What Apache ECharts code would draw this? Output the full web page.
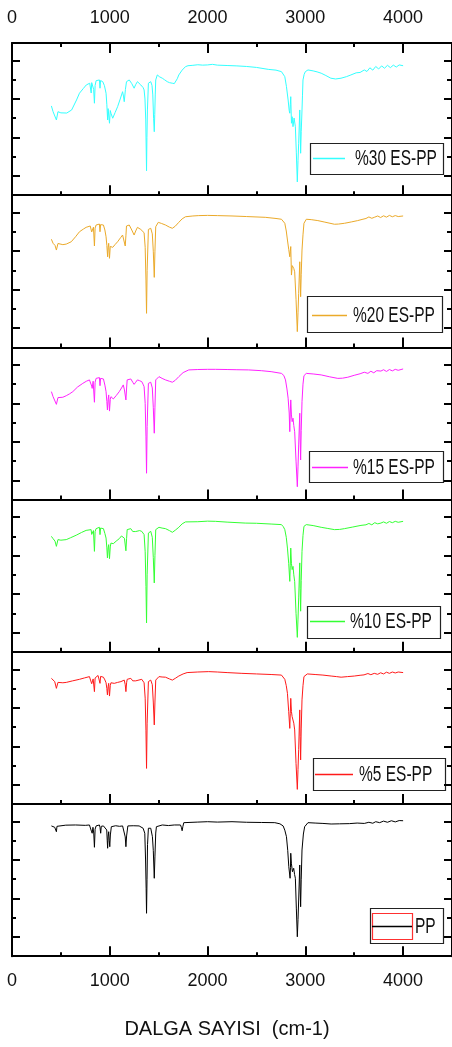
<!DOCTYPE html>
<html>
<head>
<meta charset="utf-8">
<script src="https://cdn.jsdelivr.net/npm/echarts@6/dist/echarts.min.js"></script>
<style>
html,body{margin:0;padding:0;background:#fff;}
#chart{width:452px;height:1047px;}
</style>
</head>
<body>
<div id="chart"></div>
<script>
// ---------------- DATA (wavenumber cm-1, transmittance in panel units) ----------------
const seriesNames = ['%30 ES-PP', '%20 ES-PP', '%15 ES-PP', '%10 ES-PP', '%5 ES-PP', 'PP'];
const seriesColors = ['#33FFFF', '#EBAA2A', '#FF22FF', '#33FF33', '#FF1A1A', '#000000'];
const xTickValues = [0, 1000, 2000, 3000, 4000];
const xAxisTitle = 'DALGA SAYISI  (cm-1)';

const es30 = [[403,46.4],[420,43.4],[440,44.0],[454,39.1],[470,43.4],[500,42.8],[520,43.6],[560,42.7],[610,44.3],[625,45.2],[660,49.5],[690,53.0],[730,55.5],[760,57.3],[795,58.2],[805,57.5],[810,53.1],[815,58.5],[825,58.8],[835,55.0],[843,47.8],[850,57.0],[860,59.5],[880,60.0],[894,59.9],[900,55.6],[906,59.6],[928,59.0],[945,57.0],[962,53.0],[970,47.0],[978,39.1],[983,45.0],[989,46.0],[997,37.4],[1005,44.0],[1012,42.6],[1030,40.0],[1055,43.0],[1080,46.0],[1110,50.5],[1131,53.8],[1140,51.5],[1148,48.6],[1160,55.0],[1171,59.0],[1199,59.9],[1225,58.0],[1249,55.6],[1265,57.5],[1283,59.0],[1300,58.5],[1317,57.3],[1340,56.0],[1351,54.7],[1360,50.0],[1368,39.1],[1376,12.7],[1380,30.0],[1385,44.3],[1395,58.2],[1419,59.0],[1432,57.0],[1440,52.1],[1448,40.0],[1455,33.0],[1460,42.0],[1465,52.1],[1470,59.9],[1486,62.5],[1510,61.5],[1537,60.8],[1560,60.0],[1588,59.0],[1610,58.5],[1639,58.2],[1660,58.0],[1673,59.0],[1690,60.5],[1706,62.5],[1740,65.0],[1774,66.8],[1800,67.3],[1850,67.5],[1900,67.8],[1950,67.6],[2000,67.7],[2050,68.0],[2100,67.6],[2200,67.4],[2300,67.2],[2400,66.9],[2500,66.4],[2621,65.4],[2700,65.0],[2756,64.2],[2775,63.2],[2790,61.6],[2807,56.4],[2824,49.5],[2835,44.0],[2841,42.6],[2846,47.0],[2851,51.2],[2858,37.4],[2865,40.8],[2874,35.6],[2885,40.1],[2898,35.6],[2908,22.0],[2918,6.9],[2925,18.0],[2932,27.0],[2943,44.3],[2947,35.0],[2952,21.8],[2958,33.0],[2966,44.3],[2971,52.0],[2976,59.9],[2988,62.8],[3000,64.2],[3027,65.1],[3080,64.6],[3120,64.1],[3162,63.4],[3210,62.2],[3261,60.8],[3310,60.4],[3365,60.8],[3420,61.6],[3466,62.5],[3520,63.6],[3560,63.8],[3603,65.1],[3630,64.3],[3660,66.2],[3690,65.0],[3720,66.9],[3750,65.6],[3780,67.2],[3810,66.0],[3840,67.5],[3870,66.3],[3900,67.6],[3930,66.6],[3960,67.7],[4000,67.3]];

const es20 = [[403,56.2],[420,54.1],[440,53.0],[454,50.6],[470,54.0],[487,54.1],[520,53.4],[555,53.7],[606,54.9],[650,57.5],[690,60.1],[730,61.5],[758,62.4],[800,63.1],[809,62.8],[815,60.0],[826,59.3],[833,62.5],[843,52.7],[850,62.0],[860,63.6],[880,64.0],[894,64.1],[900,60.1],[906,63.8],[935,63.6],[950,61.0],[962,57.5],[970,53.0],[978,47.1],[983,52.0],[989,54.1],[997,46.3],[1005,52.5],[1012,53.2],[1030,52.0],[1055,53.5],[1080,54.9],[1110,57.0],[1131,58.4],[1145,57.5],[1158,52.7],[1165,58.0],[1171,63.1],[1199,63.6],[1225,61.0],[1249,58.4],[1265,60.5],[1283,62.4],[1300,61.8],[1317,61.3],[1335,60.5],[1351,59.6],[1362,52.0],[1370,35.0],[1376,17.7],[1382,40.0],[1395,61.3],[1419,61.9],[1435,59.0],[1445,50.0],[1455,36.4],[1462,50.0],[1470,62.7],[1496,65.0],[1530,64.4],[1570,63.6],[1610,62.5],[1640,61.9],[1670,63.0],[1706,65.0],[1740,66.8],[1774,67.9],[1850,68.3],[1910,68.5],[2000,68.6],[2100,68.5],[2250,68.3],[2400,68.0],[2590,67.6],[2700,67.0],[2756,66.6],[2775,65.7],[2790,64.5],[2805,60.5],[2817,55.8],[2830,51.0],[2841,47.1],[2846,50.0],[2851,52.4],[2858,37.6],[2866,42.5],[2874,41.9],[2882,41.0],[2891,39.3],[2905,25.0],[2918,8.2],[2925,18.0],[2932,28.1],[2943,44.5],[2947,36.0],[2952,26.3],[2958,38.0],[2966,50.6],[2976,58.5],[2986,64.5],[3010,66.6],[3060,66.4],[3128,65.9],[3200,65.1],[3298,64.0],[3340,64.1],[3400,64.5],[3470,65.2],[3535,65.9],[3580,66.5],[3620,67.0],[3650,67.8],[3680,67.1],[3705,67.6],[3740,68.3],[3770,67.5],[3800,68.4],[3830,67.7],[3860,68.6],[3890,67.9],[3920,68.5],[3950,68.0],[4000,68.3]];

const es15 = [[403,56.1],[420,53.5],[440,52.5],[454,49.5],[470,53.0],[487,53.5],[520,53.2],[555,54.0],[590,55.0],[622,56.1],[670,58.5],[724,60.4],[760,61.5],[792,62.2],[810,62.0],[815,59.0],[820,57.8],[830,61.5],[843,50.6],[850,61.0],[860,63.0],[880,63.3],[894,63.4],[900,59.2],[906,63.0],[935,62.7],[950,59.5],[962,56.1],[970,51.0],[976,46.6],[983,52.0],[989,54.4],[997,46.0],[1005,52.0],[1012,53.5],[1036,52.3],[1065,54.0],[1097,56.1],[1120,58.0],[1138,59.6],[1150,57.0],[1165,51.8],[1172,58.0],[1178,62.2],[1215,62.7],[1235,61.0],[1249,59.9],[1265,61.0],[1283,62.2],[1305,61.8],[1327,61.3],[1340,60.0],[1351,58.7],[1362,50.0],[1370,33.0],[1376,13.7],[1382,38.0],[1395,60.4],[1419,61.0],[1435,58.0],[1445,48.0],[1455,34.5],[1462,48.0],[1470,62.2],[1503,63.9],[1535,63.0],[1570,62.2],[1610,61.5],[1640,61.0],[1670,62.0],[1706,63.9],[1750,66.0],[1808,67.4],[1900,67.6],[2000,67.7],[2080,67.7],[2200,67.6],[2300,67.5],[2420,67.4],[2550,67.0],[2650,66.5],[2756,65.6],[2780,64.5],[2797,62.2],[2812,57.5],[2824,52.7],[2835,45.0],[2841,35.3],[2846,45.0],[2851,51.8],[2858,44.0],[2865,40.5],[2874,42.3],[2882,38.5],[2891,35.3],[2905,20.0],[2918,6.7],[2925,17.0],[2932,28.4],[2943,44.9],[2947,32.0],[2952,20.6],[2958,36.0],[2966,50.9],[2976,60.0],[2986,64.4],[3010,65.6],[3080,65.3],[3162,64.8],[3250,63.8],[3332,63.0],[3380,63.1],[3434,63.6],[3500,64.6],[3560,65.4],[3603,66.2],[3640,65.6],[3670,66.7],[3700,65.9],[3730,67.0],[3773,66.8],[3800,67.5],[3830,66.6],[3860,67.6],[3890,66.9],[3920,67.7],[3950,67.2],[4000,67.9]];

const es10 = [[403,60.0],[420,58.8],[440,57.5],[454,54.8],[470,58.3],[500,58.0],[555,58.3],[600,59.3],[657,60.6],[710,62.0],[758,63.1],[809,63.5],[815,61.0],[826,60.0],[833,63.0],[843,52.2],[850,62.5],[860,64.0],[880,64.5],[894,64.7],[900,60.9],[906,64.3],[935,64.0],[950,61.5],[962,59.1],[970,54.0],[976,48.8],[983,54.0],[989,55.7],[997,48.4],[1005,54.5],[1012,56.5],[1036,56.2],[1065,57.5],[1097,58.8],[1120,60.2],[1138,61.2],[1150,59.0],[1165,52.5],[1172,59.0],[1178,63.5],[1215,64.0],[1235,62.5],[1249,61.7],[1265,62.5],[1283,63.5],[1305,63.0],[1327,62.6],[1340,61.8],[1351,60.9],[1362,52.0],[1370,34.0],[1376,15.0],[1382,40.0],[1395,61.7],[1419,62.6],[1435,59.5],[1445,49.0],[1455,35.8],[1462,50.0],[1470,63.5],[1503,64.7],[1535,64.3],[1570,64.0],[1610,63.0],[1640,62.1],[1670,63.2],[1706,64.7],[1740,66.5],[1774,67.5],[1900,67.6],[2000,67.9],[2080,67.8],[2200,67.4],[2385,66.9],[2500,66.8],[2650,66.4],[2756,66.1],[2775,65.0],[2790,63.5],[2805,59.5],[2817,53.9],[2830,46.0],[2841,36.6],[2846,45.0],[2851,53.9],[2858,46.0],[2865,42.7],[2874,44.4],[2882,40.0],[2891,36.6],[2905,20.0],[2918,7.5],[2925,17.0],[2932,28.0],[2943,46.2],[2947,33.0],[2952,21.1],[2958,37.0],[2966,52.2],[2976,60.5],[2986,65.2],[3010,66.1],[3080,65.6],[3162,64.7],[3230,64.1],[3298,63.5],[3350,63.6],[3400,64.0],[3480,64.8],[3569,65.7],[3620,66.0],[3650,66.7],[3680,66.0],[3710,67.1],[3740,66.5],[3773,66.9],[3800,67.5],[3830,66.8],[3860,67.7],[3890,67.1],[3920,67.8],[3950,67.3],[4000,67.8]];

const es5 = [[403,65.3],[420,64.5],[437,63.6],[454,60.1],[470,63.2],[520,63.0],[555,63.2],[620,64.0],[690,64.8],[740,65.5],[792,66.2],[810,65.8],[815,62.5],[820,61.9],[830,65.0],[843,58.4],[850,65.5],[860,66.5],[880,66.8],[894,66.9],[900,62.7],[906,66.3],[935,65.9],[950,64.5],[962,63.0],[970,60.0],[976,56.7],[983,61.0],[989,62.7],[997,56.1],[1005,61.5],[1012,63.0],[1046,62.7],[1080,63.2],[1114,63.6],[1148,64.4],[1158,62.0],[1165,58.4],[1172,63.0],[1178,64.8],[1215,65.3],[1235,64.0],[1249,63.0],[1265,64.0],[1283,64.8],[1327,64.8],[1340,64.0],[1351,63.0],[1362,55.0],[1370,38.0],[1376,18.5],[1382,42.0],[1395,63.6],[1419,64.4],[1435,62.0],[1445,53.0],[1455,41.1],[1462,53.0],[1470,64.4],[1503,66.2],[1535,66.0],[1570,65.9],[1610,65.0],[1640,64.4],[1670,65.3],[1706,66.5],[1750,67.6],[1791,68.3],[1900,68.6],[2012,68.8],[2100,68.6],[2200,68.3],[2351,67.9],[2500,67.6],[2650,67.3],[2756,67.0],[2775,66.2],[2790,64.8],[2805,61.5],[2817,57.5],[2830,48.0],[2841,39.3],[2846,47.0],[2851,54.9],[2858,48.0],[2865,45.4],[2874,46.3],[2882,42.0],[2891,38.5],[2905,21.0],[2918,7.6],[2925,18.0],[2932,28.4],[2943,48.9],[2947,35.0],[2952,22.9],[2958,39.0],[2966,54.1],[2976,61.5],[2986,66.2],[3020,67.6],[3100,67.3],[3180,67.0],[3264,66.5],[3320,66.2],[3366,65.9],[3430,66.2],[3501,66.5],[3560,66.9],[3600,67.1],[3640,67.8],[3670,67.2],[3705,67.9],[3740,67.4],[3770,68.2],[3800,67.6],[3830,68.5],[3860,67.9],[3890,68.6],[3920,68.1],[3950,68.6],[4000,68.3]];

const pp = [[403,67.7],[420,67.2],[437,67.0],[447,67.8],[454,64.7],[460,67.5],[470,68.2],[550,68.1],[650,68.2],[750,68.0],[792,68.2],[805,67.5],[812,65.0],[820,63.9],[828,67.0],[836,64.0],[843,56.6],[850,66.0],[860,67.7],[894,68.2],[900,67.0],[907,63.9],[913,67.5],[935,67.7],[955,67.0],[969,65.6],[974,60.0],[978,56.1],[983,62.0],[989,64.7],[995,60.0],[1000,56.9],[1006,63.0],[1016,67.3],[1060,67.8],[1100,67.5],[1131,67.7],[1150,66.8],[1158,62.0],[1165,56.9],[1172,62.5],[1185,67.7],[1240,67.8],[1300,67.7],[1320,67.2],[1341,66.5],[1358,63.9],[1366,50.0],[1372,35.0],[1376,22.3],[1381,40.0],[1386,58.0],[1395,66.5],[1419,66.5],[1436,62.1],[1445,55.0],[1455,40.5],[1462,52.0],[1470,64.0],[1477,67.3],[1537,68.2],[1600,67.9],[1660,68.2],[1723,68.2],[1732,67.0],[1740,65.2],[1748,67.5],[1757,69.4],[1900,69.7],[2000,69.9],[2100,69.7],[2250,69.9],[2400,69.6],[2550,69.5],[2688,69.4],[2740,68.8],[2773,67.7],[2790,65.5],[2807,62.1],[2820,55.0],[2831,46.5],[2844,40.5],[2848,46.0],[2851,53.5],[2858,48.0],[2868,43.9],[2881,45.7],[2890,42.5],[2898,40.5],[2908,25.0],[2918,10.1],[2925,19.0],[2932,29.2],[2943,47.4],[2947,36.0],[2952,25.7],[2958,40.0],[2966,55.2],[2980,63.5],[2993,67.3],[3027,69.4],[3100,69.2],[3180,69.0],[3264,68.7],[3350,68.8],[3450,68.9],[3530,69.2],[3603,69.0],[3650,69.6],[3690,69.1],[3720,69.9],[3760,69.4],[3800,70.2],[3840,69.6],[3880,70.4],[3920,69.8],[3960,70.5],[4000,70.4]];

const panelData = [es30, es20, es15, es10, es5, pp];

// ---------------- LAYOUT ----------------
const GRID_TOP = 43, GRID_H = 152.2, GRID_LEFT = 12, GRID_W = 443;
const X_MIN = 0, X_MAX = 4500, Y_MIN = 0, Y_MAX = 79.1;
const FONT = "'Liberation Sans', Arial, sans-serif";
const axisLineStyle = { color: '#000', width: 2 };
const tickLineStyle = { color: '#000', width: 2 };
const labelFmt = v => String(v);

const grids = [], xAxes = [], yAxes = [], series = [];

for (let i = 0; i < 6; i++) {
  grids.push({ left: GRID_LEFT, top: GRID_TOP + GRID_H * i, width: GRID_W, height: GRID_H, containLabel: false });
  const isLast = i === 5;
  // bottom x axis of this panel
  xAxes.push({
    gridIndex: i, type: 'value', position: 'bottom', min: X_MIN, max: X_MAX, interval: 1000,
    axisLine: { show: true, onZero: false, lineStyle: axisLineStyle },
    axisTick: { show: true, inside: true, length: 10, lineStyle: tickLineStyle },
    minorTick: { show: true, splitNumber: 2, length: 4, lineStyle: tickLineStyle },
    splitLine: { show: false },
    axisLabel: isLast ? { show: true, margin: 16, fontSize: 18, color: '#111', fontFamily: FONT,
      customValues: xTickValues, formatter: labelFmt } : { show: false },
    name: isLast ? xAxisTitle : '',
    nameLocation: 'middle', nameGap: 63,
    nameTextStyle: { fontSize: 20, color: '#111', fontFamily: FONT, padding: [0, 10, 0, 0] }
  });
  // top axis (only first panel carries ticks and labels on top)
  if (i === 0) {
    xAxes.push({
      gridIndex: i, type: 'value', position: 'top', min: X_MIN, max: X_MAX, interval: 1000,
      axisLine: { show: true, onZero: false, lineStyle: axisLineStyle },
      axisTick: { show: true, inside: true, length: 10, lineStyle: tickLineStyle },
      minorTick: { show: true, splitNumber: 2, length: 4, lineStyle: tickLineStyle },
      splitLine: { show: false },
      axisLabel: { show: true, margin: 16, fontSize: 18, color: '#111', fontFamily: FONT,
        customValues: xTickValues, formatter: labelFmt }
    });
  }
  const xIdx = xAxes.length - (i === 0 ? 2 : 1);
  // left y axis
  yAxes.push({
    gridIndex: i, type: 'value', position: 'left', min: Y_MIN, max: Y_MAX, interval: 20,
    axisLine: { show: true, onZero: false, lineStyle: axisLineStyle },
    axisTick: { show: true, inside: true, length: 4, lineStyle: tickLineStyle },
    minorTick: { show: true, splitNumber: 2, length: 8, lineStyle: tickLineStyle },
    splitLine: { show: false }, axisLabel: { show: false }
  });
  const yIdx = yAxes.length - 1;
  // right y axis
  yAxes.push({
    gridIndex: i, type: 'value', position: 'right', min: Y_MIN, max: Y_MAX, interval: 20,
    axisLine: { show: true, onZero: false, lineStyle: axisLineStyle },
    axisTick: { show: true, inside: true, length: 5, lineStyle: tickLineStyle },
    minorTick: { show: true, splitNumber: 2, length: 8, lineStyle: tickLineStyle },
    splitLine: { show: false }, axisLabel: { show: false }
  });
  series.push({
    name: seriesNames[i], type: 'line', xAxisIndex: xIdx, yAxisIndex: yIdx,
    data: panelData[i], showSymbol: false, symbol: 'none', smooth: false,
    lineStyle: { color: seriesColors[i], width: 1 }, itemStyle: { color: seriesColors[i] },
    clip: true, animation: false
  });
}

// ---------------- LEGEND BOXES (one per panel) ----------------
const legendBoxes = [
  { box: [310, 143, 133, 31], line: [313, 345, 158], textX: 355 },
  { box: [307, 296, 135, 36], line: [312, 347, 315], textX: 353 },
  { box: [309, 451, 134, 31], line: [312, 348, 467], textX: 353 },
  { box: [307, 606, 133, 32], line: [310, 345, 621], textX: 350 },
  { box: [313, 758, 132, 32], line: [315, 353, 774], textX: 359 },
  { box: [370, 908, 73, 35], line: [372, 412, 926], textX: 415, frame: [372, 913, 40, 26] }
];
const graphics = [];
legendBoxes.forEach((lb, i) => {
  const children = [
    { type: 'rect', shape: { x: lb.box[0] + 0.5, y: lb.box[1] + 0.5, width: lb.box[2], height: lb.box[3] },
      style: { fill: '#fff', stroke: '#222', lineWidth: 1.2 } }
  ];
  if (lb.frame) {
    children.push({ type: 'rect', shape: { x: lb.frame[0] + 0.5, y: lb.frame[1] + 0.5, width: lb.frame[2], height: lb.frame[3] },
      style: { fill: 'none', stroke: '#ff3030', lineWidth: 1.2 } });
  }
  children.push({ type: 'line', shape: { x1: lb.line[0], y1: lb.line[2] + 0.5, x2: lb.line[1], y2: lb.line[2] + 0.5 },
    style: { stroke: seriesColors[i], lineWidth: 1.5 } });
  children.push({ type: 'text', x: lb.textX, y: lb.line[2] + 1, scaleY: 1.4,
    style: { text: seriesNames[i], fill: '#111', font: '15.5px ' + FONT, textAlign: 'left', textVerticalAlign: 'middle' } });
  graphics.push({ type: 'group', children: children });
});

const chart = echarts.init(document.getElementById('chart'), null, { renderer: 'canvas' });
chart.setOption({
  backgroundColor: '#fff',
  animation: false,
  grid: grids,
  xAxis: xAxes,
  yAxis: yAxes,
  series: series,
  graphic: graphics
});
</script>
</body>
</html>
